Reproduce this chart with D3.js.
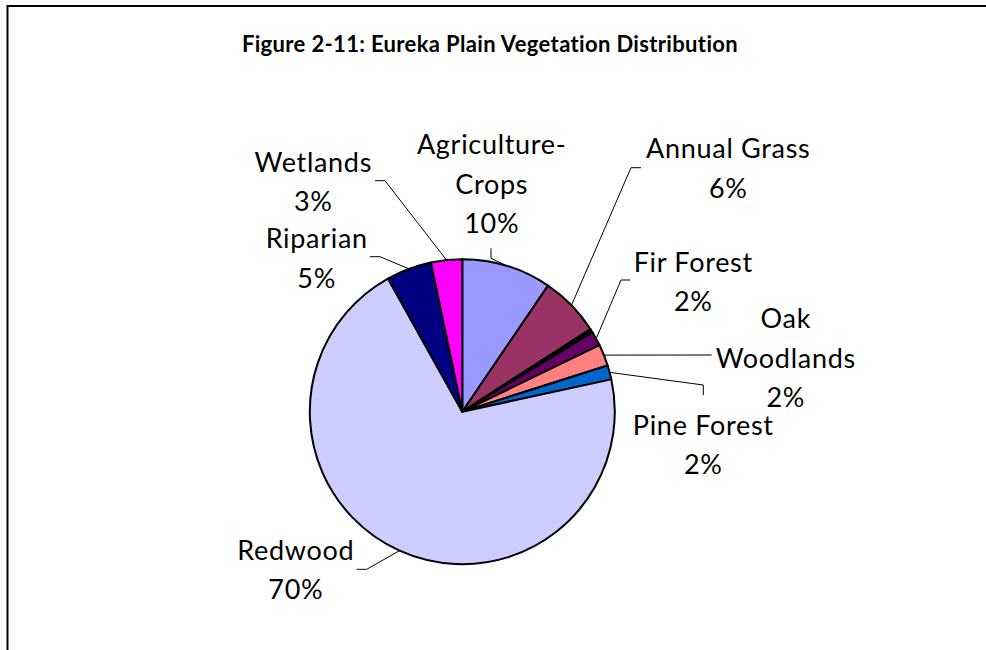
<!DOCTYPE html>
<html>
<head>
<meta charset="utf-8">
<script src="https://cdn.jsdelivr.net/npm/d3@7"></script>
<style>
  html, body { margin: 0; padding: 0; background: #fff; }
  svg { display: block; }
</style>
</head>
<body>
<svg id="chart" width="986" height="650"></svg>
<script>
// ---- data ----
const categories = ["Agriculture-Crops", "Annual Grass", "Other", "Fir Forest", "Oak Woodlands", "Pine Forest", "Redwood", "Riparian", "Wetlands"];
const values     = [9.5, 6.4, 0.4, 1.5, 2.3, 1.5, 70.3, 4.8, 3.3];
const pctLabels  = ["10%", "6%", "", "2%", "2%", "2%", "70%", "5%", "3%"];
const nameLines  = [["Agriculture-", "Crops"], ["Annual Grass"], [], ["Fir Forest"], ["Oak", "Woodlands"], ["Pine Forest"], ["Redwood"], ["Riparian"], ["Wetlands"]];
const colors     = ["#9999FF", "#993366", "#000000", "#660066", "#FF8080", "#0066CC", "#CCCCFF", "#000080", "#FF00FF"];
const title = "Figure 2-11: Eureka Plain Vegetation Distribution";

// ---- layout (label anchors & leader bends, relative to pie centre) ----
const cx = 462.3, cy = 411.7, R = 152.5;
const labelLayout = [
  { x: 29.4,  y: -257.4, bends: [[28.7, -153.4], [28.7, -163.4]] },
  { x: 266,   y: -253.4, bends: [[168.7, -244], [178.7, -244]] },
  null,
  { x: 231,   y: -140,   bends: [[158.7, -131.7], [167.7, -131.7]] },
  { x: 323.5, y: -83.4,  bends: [[249.4, -56.7]] },
  { x: 241,   y: 23.3,   bends: [[241, -26.7], [241, -16.7]] },
  { x: -166.5,y: 148.3,  bends: [[-95.6, 157.6], [-105.6, 157.6]] },
  { x: -145.6,y: -163.4, bends: [[-82.3, -155], [-92.3, -155]] },
  { x: -149,  y: -240,   bends: [[-77.3, -231], [-87.3, -231]] }
];
const lineGap = 39.5;

const svg = d3.select("#chart");

// frame
svg.append("rect")
  .attr("x", 7.5).attr("y", 6)
  .attr("width", 1000).attr("height", 700)
  .attr("fill", "none").attr("stroke", "#000").attr("stroke-width", 2);

// title
svg.append("text")
  .attr("x", 490).attr("y", 52)
  .attr("text-anchor", "middle")
  .attr("font-family", "Lato, 'Open Sans', sans-serif")
  .attr("font-weight", "bold")
  .attr("font-size", 22)
  .attr("letter-spacing", 0.35)
  .attr("fill", "#000")
  .text(title);

const pie = d3.pie().sort(null).value(d => d)(values);
const arc = d3.arc().innerRadius(0).outerRadius(R);

const g = svg.append("g").attr("transform", `translate(${cx},${cy})`);

g.selectAll("path.slice")
  .data(pie)
  .join("path")
  .attr("class", "slice")
  .attr("d", arc)
  .attr("fill", (d, i) => colors[i])
  .attr("stroke", "#000")
  .attr("stroke-width", 2)
  .attr("stroke-linejoin", "round");

// leader lines
pie.forEach((d, i) => {
  const L = labelLayout[i];
  if (!L) return;
  const a = (d.startAngle + d.endAngle) / 2;
  const start = [R * Math.sin(a), -R * Math.cos(a)];
  const pts = [start].concat(L.bends);
  g.append("path")
    .attr("d", d3.line()(pts))
    .attr("fill", "none")
    .attr("stroke", "#000")
    .attr("stroke-width", 1);
});

// labels
pie.forEach((d, i) => {
  const L = labelLayout[i];
  if (!L) return;
  const lines = nameLines[i].concat([pctLabels[i]]);
  const t = g.append("text")
    .attr("text-anchor", "middle")
    .attr("font-family", "Lato, 'Open Sans', sans-serif")
    .attr("font-size", 27)
    .attr("letter-spacing", 0.7)
    .attr("fill", "#000");
  lines.forEach((s, k) => {
    t.append("tspan").attr("x", L.x).attr("y", L.y + k * lineGap).text(s);
  });
});
</script>
</body>
</html>
